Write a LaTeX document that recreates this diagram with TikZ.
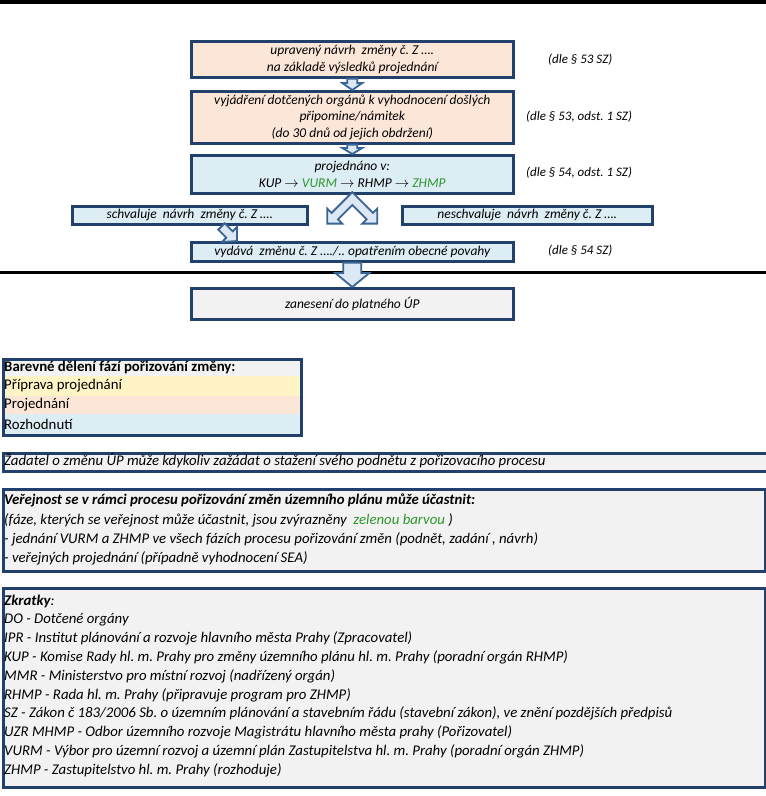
\documentclass[tikz,border=0pt]{standalone}
\usepackage{fontspec}
\setmainfont{Carlito}
\usetikzlibrary{calc}
\frenchspacing
\definecolor{bordc}{HTML}{22406C}
\definecolor{peach}{HTML}{FCE6D7}
\definecolor{lblue}{HTML}{DCEDF4}
\definecolor{lgrey}{HTML}{F2F2F2}
\definecolor{lyel}{HTML}{FFF4C6}
\definecolor{grn}{HTML}{2E962E}
\definecolor{arrfill}{HTML}{DCE8F4}
\definecolor{arrdraw}{HTML}{3A6494}
\tikzset{
  flow/.style={draw=bordc, line width=2.6pt, inner sep=0pt, align=center,
    minimum width=322pt, anchor=north west,
    font=\fontsize{13.5}{16.5}\selectfont\itshape},
  side/.style={draw=bordc, line width=2.6pt, inner sep=0pt, align=center,
    anchor=north west, font=\fontsize{13.5}{16}\selectfont\itshape},
  lab/.style={anchor=west, inner sep=0pt, font=\fontsize{13}{14}\selectfont\itshape},
  panel/.style={draw=bordc, line width=2.6pt, fill=lgrey, inner sep=0pt, anchor=north west},
  ln/.style={anchor=west, inner sep=0pt, font=\fontsize{14.8}{17}\selectfont\itshape},
  lnup/.style={anchor=west, inner sep=0pt, font=\fontsize{14.8}{17}\selectfont},
  blk/.style={fill=arrfill, draw=arrdraw, line width=1.8pt, line join=miter},
}
\newcommand\BlockDown[5]{%
  \filldraw[blk] let \p1=#1, \p2=#2 in
   (\x1-#3pt,\y1) -- (\x1+#3pt,\y1) -- (\x1+#3pt,\y2+#5pt) -- (\x1+#4pt,\y2+#5pt)
   -- (\x1,\y2) -- (\x1-#4pt,\y2+#5pt) -- (\x1-#3pt,\y2+#5pt) -- cycle;}
\begin{document}
\begin{tikzpicture}[x=1pt,y=-1pt]
\useasboundingbox (0,0) rectangle (766,796);
\fill[white] (0,0) rectangle (766,796);
% top rule
\fill[black] (0,0) rectangle (766,4);
% flow boxes
\node[flow, fill=peach, minimum height=36pt] (b1) at (190,40)
  {upravený návrh~ změny č. Z …. \\ na základě výsledků projednání};
\node[flow, fill=peach, minimum height=52pt] (b2) at (190,90)
  {vyjádření dotčených orgánů k vyhodnocení došlých\\ připomine/námitek\\ (do 30 dnů od jejich obdržení)};
\node[flow, fill=lblue, minimum height=38pt] (b3) at (190,154)
  {projednáno v:\\ KUP $\rightarrow$ \textcolor{grn}{VURM} $\rightarrow$ RHMP $\rightarrow$ \textcolor{grn}{ZHMP}};
\node[side, fill=lblue, minimum width=235pt, minimum height=18pt] (b4) at (71,205)
  {schvaluje~ návrh~ změny č. Z ….};
\node[side, fill=lblue, minimum width=250pt, minimum height=18pt] (b5) at (401,205)
  {neschvaluje~ návrh~ změny č. Z ….};
\node[flow, fill=lblue, minimum height=19pt] (b6) at (190,241)
  {vydává~ změnu č. Z …./.. opatřením obecné povahy};
% middle rule
\fill[black] (0,270.5) rectangle (766,274);
\node[flow, fill=lgrey, minimum height=31pt] (b7) at (190,287)
  {zanesení do platného ÚP};
% side labels
\node[lab] (l1) at (548,60) {(dle § 53 SZ)};
\node[lab] (l2) at (526,117) {(dle § 53, odst. 1 SZ)};
\node[lab] (l3) at (526,173) {(dle § 54, odst. 1 SZ)};
\node[lab] (l4) at (548,251) {(dle § 54 SZ)};
% block arrows
\BlockDown{(b1.south)}{(b2.north)}{5}{10}{7}
\BlockDown{(b2.south)}{(b3.north)}{5}{10}{6}
\BlockDown{(b6.south)}{(b7.north)}{9}{17}{14}
% split chevron
\begin{scope}[shift={($(b3.south)+(0,-1)$)}]
  \filldraw[blk] (0,-1.4) -- (-20.7,19.3) -- (-25,15) -- (-25,30) -- (-10,30)
    -- (-14.3,25.7) -- (0,11.4) -- (14.3,25.7) -- (10,30) -- (25,30) -- (25,15)
    -- (20.7,19.3) -- cycle;
\end{scope}
% diagonal arrow b4 -> b6
\coordinate (dtip) at ($(b6.north west)+(47,0)$);
\filldraw[blk] (dtip) -- ++(0,-14) -- ++(-4.3,4.3) -- ++(-8,-8) -- ++(-6.4,6.4)
  -- ++(8,8) -- ++(-4.3,4.3) -- cycle;
% legend
\fill[lgrey] (2,358) rectangle (300,376);
\fill[lyel] (2,376) rectangle (300,396);
\fill[peach] (2,396) rectangle (300,414);
\fill[lblue] (2,414) rectangle (300,434);
\node[draw=bordc, line width=2.6pt, inner sep=0pt, anchor=north west,
  minimum width=298pt, minimum height=76pt] (leg) at (2,358) {};
\node[lnup, font=\fontsize{14.8}{17}\selectfont\bfseries] (g0) at (4,367) {Barevné dělení fází pořizování změny:};
\node[lnup] (g1) at (4,386) {Příprava projednání};
\node[lnup] (g2) at (4,405) {Projednání};
\node[lnup] (g3) at (4,424) {Rozhodnutí};
% applicant
\node[panel, minimum width=764pt, minimum height=18pt] (zad) at (2,452) {};
\node[ln] (zt) at (4,461) {Žadatel o změnu ÚP může kdykoliv zažádat o stažení svého podnětu z pořizovacího procesu};
% public
\node[panel, minimum width=762pt, minimum height=82pt] (ver) at (2,488) {};
\node[ln, font=\fontsize{14.8}{17}\selectfont\bfseries\itshape] (v1) at (4,500)
  {Veřejnost se v rámci procesu pořizování změn územního plánu může účastnit:};
\node[ln] (v2) at (4,520) {(fáze, kterých se veřejnost může účastnit, jsou zvýrazněny~ \textcolor{grn}{zelenou barvou} )};
\node[ln] (v3) at (4,539) {- jednání VURM a ZHMP ve všech fázích procesu pořizování změn (podnět, zadání , návrh)};
\node[ln] (v4) at (4,558) {- veřejných projednání (případně vyhodnocení SEA)};
% abbreviations
\node[panel, minimum width=762pt, minimum height=199pt] (zkr) at (2,587) {};
\node[ln] (z0) at (4,601) {\textbf{Zkratky}:};
\node[ln] (z1) at (4,619.8) {DO - Dotčené orgány};
\node[ln] (z2) at (4,638.6) {IPR - Institut plánování a rozvoje hlavního města Prahy (Zpracovatel)};
\node[ln] (z3) at (4,657.4) {KUP - Komise Rady hl. m. Prahy pro změny územního plánu hl. m. Prahy (poradní orgán RHMP)};
\node[ln] (z4) at (4,676.2) {MMR - Ministerstvo pro místní rozvoj (nadřízený orgán)};
\node[ln] (z5) at (4,695) {RHMP - Rada hl. m. Prahy (připravuje program pro ZHMP)};
\node[ln] (z6) at (4,713.8) {SZ - Zákon č 183/2006 Sb. o územním plánování a stavebním řádu (stavební zákon), ve znění pozdějších předpisů};
\node[ln] (z7) at (4,732.6) {UZR MHMP - Odbor územního rozvoje Magistrátu hlavního města prahy (Pořizovatel)};
\node[ln] (z8) at (4,751.4) {VURM - Výbor pro územní rozvoj a územní plán Zastupitelstva hl. m. Prahy (poradní orgán ZHMP)};
\node[ln] (z9) at (4,770.2) {ZHMP - Zastupitelstvo hl. m. Prahy (rozhoduje)};
\end{tikzpicture}
\end{document}
